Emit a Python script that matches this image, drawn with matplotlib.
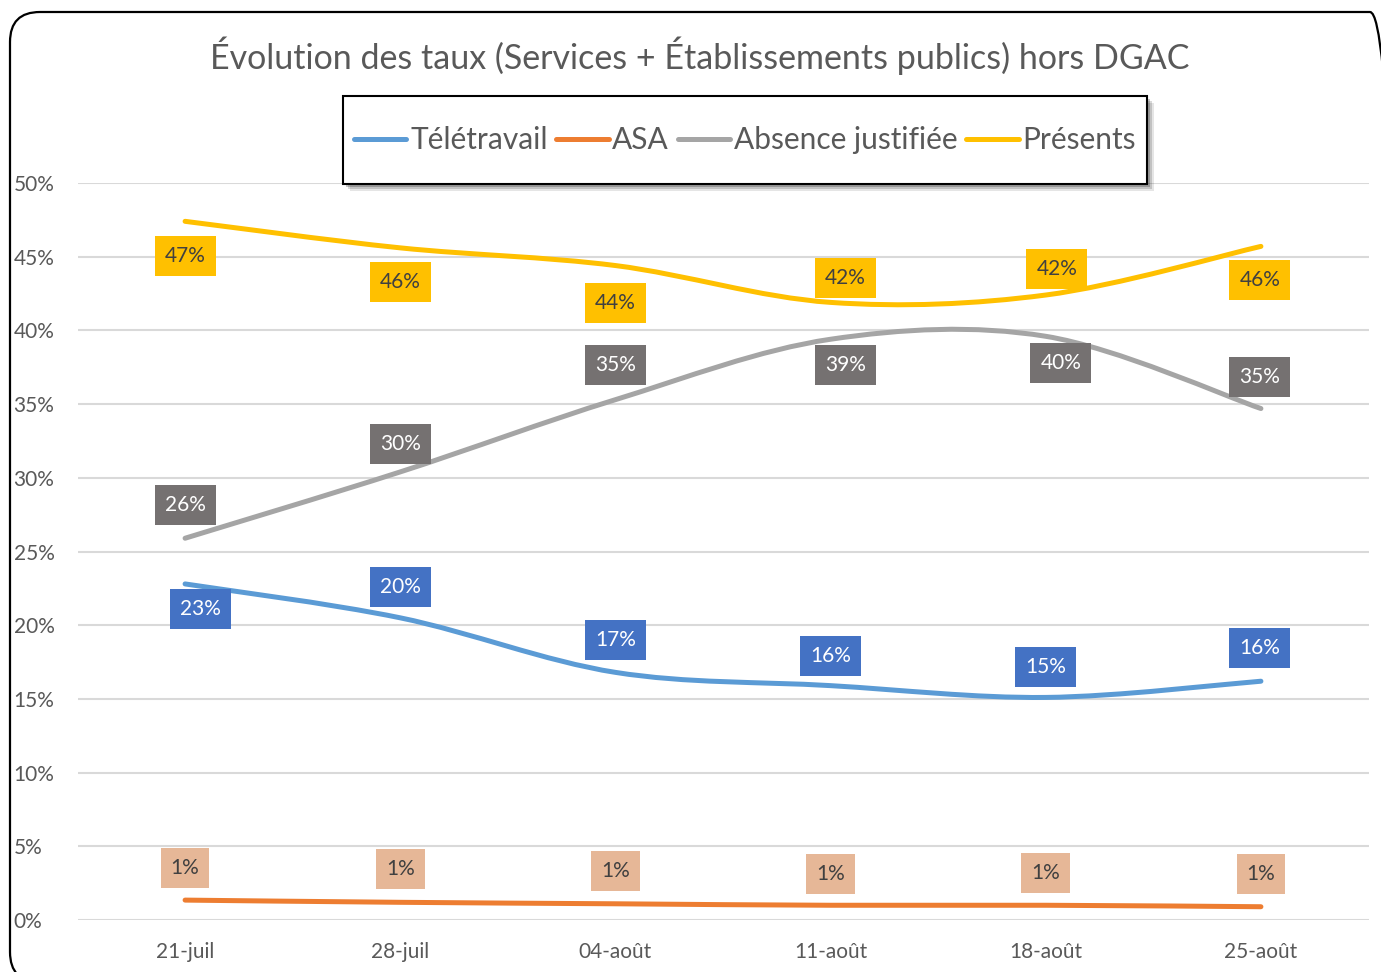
import matplotlib
matplotlib.use("Agg")
import matplotlib.pyplot as plt
from matplotlib.path import Path
from matplotlib.patches import PathPatch, FancyBboxPatch, Rectangle
from matplotlib.lines import Line2D
from matplotlib.ticker import FuncFormatter, MultipleLocator
import numpy as np

plt.rcParams['font.family'] = ['Lato', 'DejaVu Sans']

# ---------------- data ----------------
categories = ["21-juil", "28-juil", "04-août", "11-août", "18-août", "25-août"]
teletravail = [22.8, 20.5, 16.8, 15.9, 15.1, 16.2]
asa = [1.35, 1.2, 1.1, 1.0, 1.0, 0.9]
absence = [25.9, 30.4, 35.3, 39.4, 39.6, 34.7]
presents = [47.4, 45.6, 44.4, 41.9, 42.4, 45.7]
series_names = ["Télétravail", "ASA", "Absence justifiée", "Présents"]
title = "Évolution des taux (Services + Établissements publics) hors DGAC"

# ---------------- style ----------------
line_colors = ["#5B9BD5", "#ED7D31", "#A5A5A5", "#FFC000"]
box_colors = ["#4472C4", "#E6B797", "#757171", "#FFC000"]
text_colors = ["white", "#404040", "white", "#404040"]
# label offsets in pixels (dx right, dy down) relative to data point
label_dx = [
    [15, 0, 0, 0, 0, -1],
    [0, 0, 0, 0, 0, 0],
    [0, 0, 0, 15, 15, -1],
    [0, 0, 0, 15, 11, -1],
]
label_dy = [
    [25, -31, -32, -30, -30, -33],
    [-32, -33, -33, -31, -32, -33],
    [-33, -28, -35, 26, 27, -32],
    [35, 34, 37, -24, -26, 34],
]

W, H, DPI = 1381, 972, 100
fig = plt.figure(figsize=(W / DPI, H / DPI), dpi=DPI)

# outer rounded border (pixel coordinates)
border = FancyBboxPatch((10, -10), 1390, 970,
                        boxstyle="round,pad=0,rounding_size=30",
                        transform=None, facecolor="none", edgecolor="black",
                        linewidth=1.6, zorder=-1)
fig.patches.append(border)

ax = fig.add_axes([77.5 / W, (H - 920) / H, 1291 / W, 737 / H])
ax.set_facecolor("none")
ax.set_xlim(-0.5, len(categories) - 0.5)
ax.set_ylim(0, 50)
ax.yaxis.set_major_locator(MultipleLocator(5))
ax.yaxis.set_major_formatter(FuncFormatter(lambda v, p: f"{v:.0f}%"))
ax.set_xticks(range(len(categories)))
ax.set_xticklabels(categories)
ax.tick_params(axis="both", length=0, labelsize=15, labelcolor="#595959")
ax.tick_params(axis="x", pad=16)
ax.tick_params(axis="y", pad=46)
for lab in ax.get_yticklabels():
    lab.set_horizontalalignment("left")
for s in ax.spines.values():
    s.set_visible(False)
ax.grid(axis="y", color="#D9D9D9", linewidth=1.5)
ax.set_axisbelow(True)


def smooth_path(xs, ys):
    pts = np.column_stack([xs, ys]).astype(float)
    n = len(pts)
    verts = [pts[0]]
    codes = [Path.MOVETO]
    for i in range(n - 1):
        p0 = pts[i - 1] if i > 0 else pts[i]
        p1 = pts[i]
        p2 = pts[i + 1]
        p3 = pts[i + 2] if i + 2 < n else pts[i + 1]
        c1 = p1 + (p2 - p0) / 6.0
        c2 = p2 - (p3 - p1) / 6.0
        verts += [c1, c2, p2]
        codes += [Path.CURVE4] * 3
    return Path(verts, codes)


all_series = [teletravail, asa, absence, presents]
xs = np.arange(len(categories))
for k, vals in enumerate(all_series):
    patch = PathPatch(smooth_path(xs, vals), facecolor="none",
                      edgecolor=line_colors[k], linewidth=3.6,
                      capstyle="round", joinstyle="round", zorder=3)
    ax.add_patch(patch)

for k, vals in enumerate(all_series):
    for i, v in enumerate(vals):
        ax.annotate(f"{round(v):.0f}%", xy=(i, v),
                    xytext=(label_dx[k][i] * 0.72, -label_dy[k][i] * 0.72),
                    textcoords="offset points", ha="center", va="center",
                    fontsize=15, color=text_colors[k], zorder=5,
                    bbox=dict(boxstyle="square,pad=0.48", facecolor=box_colors[k],
                              edgecolor="none"))

fig.text(700 / W, 1 - 56 / H, title, ha="center", va="center",
         fontsize=24.5, color="#595959")

# legend frame with soft shadow (pixel coordinates)
lx0, ly0, lx1, ly1 = 343, 96, 1147, 184
for s, a in [(7, 0.10), (5, 0.15), (3, 0.22)]:
    fig.patches.append(Rectangle((lx0 + s, H - ly1 - s), lx1 - lx0, ly1 - ly0,
                                 transform=None, facecolor="black", alpha=a,
                                 edgecolor="none", zorder=6))
fig.patches.append(Rectangle((lx0, H - ly1), lx1 - lx0, ly1 - ly0,
                             transform=None, facecolor="white",
                             edgecolor="black", linewidth=1.5, zorder=7))

handles = [Line2D([0], [0], color=c, linewidth=3.6, solid_capstyle="round")
           for c in line_colors]
leg = fig.legend(handles, series_names, loc="center",
                 bbox_to_anchor=(745 / W, 1 - 140 / H), ncol=4,
                 frameon=False, fontsize=21.5, handlelength=1.75,
                 handletextpad=0.12, columnspacing=0.3, borderpad=0.2,
                 borderaxespad=0)
leg.set_zorder(8)
for t in leg.get_texts():
    t.set_color("#595959")

fig.savefig("out.png", dpi=DPI)
